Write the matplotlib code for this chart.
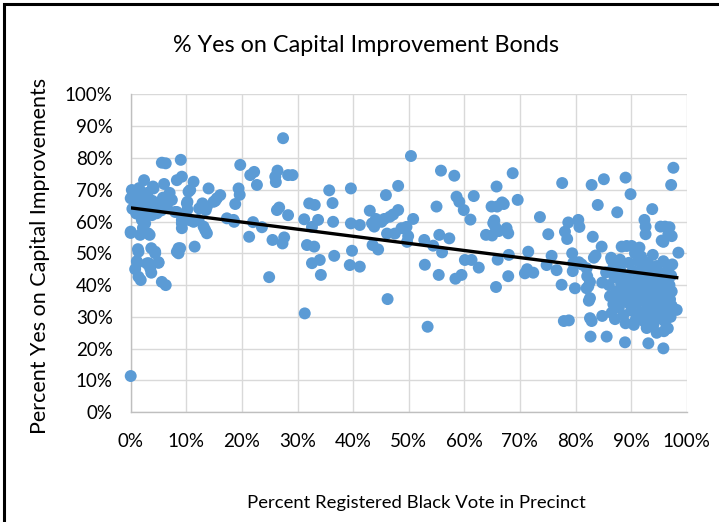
import numpy as np
import matplotlib
matplotlib.use("Agg")
import matplotlib.pyplot as plt
from matplotlib.patches import Rectangle
from matplotlib.ticker import PercentFormatter

title = "% Yes on Capital Improvement Bonds"
x_label = "Percent Registered Black Vote in Precinct"
y_label = "Percent Yes on Capital Improvements"
x_ticks = [0, 10, 20, 30, 40, 50, 60, 70, 80, 90, 100]
y_ticks = [0, 10, 20, 30, 40, 50, 60, 70, 80, 90, 100]

# precinct points: (percent black registered, percent yes)
pts_0_10 = [
    (0, 11.4), (0, 67.3), (0, 56.4), (0.4, 69.4), (0.2, 69.9), (0.3, 64), (1.1, 64.7), (2, 65.7),
    (2, 60.5), (2.6, 59.4), (0, 56.8), (1.7, 55.8), (3.4, 55.8), (1.3, 51.3), (1.4, 50.5), (1.2, 47),
    (1.1, 47.5), (2.9, 46.8), (3.5, 45.3), (0.8, 45), (1.4, 42.6), (1.8, 41.6), (2.4, 73), (3.7, 51.6),
    (4.4, 50.5), (5, 47.2), (4.4, 50), (3.2, 46.9), (3.7, 43.9), (5, 47), (3.1, 56.3), (4, 71),
    (4.1, 70.4), (3.9, 66.5), (2.9, 63.1), (4.4, 62.6), (4.7, 62.6), (5, 65.7), (6.2, 66), (7.4, 66.8),
    (6.8, 66.5), (8, 63), (8.3, 63), (5.6, 78.5), (6.3, 78.3), (6, 71.8), (5.6, 41), (6.3, 40),
    (9, 79.4), (8.3, 73), (9.2, 74.1), (10.4, 69.4), (10.2, 66.2), (10.1, 65.7), (10.2, 63.8),
    (9.2, 60.5), (10.7, 60.5), (9.2, 59.4), (9.2, 57.9), (8.6, 51.6), (8.9, 51.6), (8.3, 50.5),
    (8.6, 50), (11.5, 52.1), (0.8, 66), (1.5, 67.5), (2.5, 68), (3, 64.5), (3.8, 62), (1, 62.5),
    (1.8, 63.5), (2.2, 58), (4.5, 64), (5.5, 63.5), (6.5, 64.5), (5.8, 67.5), (7, 69), (3, 69),
    (1.5, 70.5),
]
pts_10_30 = [
    (11.3, 72.5), (10.7, 69.9), (12.3, 64.1), (14, 70.4), (13.4, 57.3), (13.7, 56.3), (13.1, 58.4),
    (11.3, 59.9), (10.7, 60.4), (12.2, 60.5), (15.5, 67.3), (16.1, 68.3), (15.2, 66.5), (14.9, 66.2),
    (13.7, 64.7), (12.9, 65.7), (13.5, 63.6), (17.3, 61), (18.5, 60.5), (18.6, 59.9), (19.4, 70.4),
    (19.6, 68.4), (18.8, 65.5), (19.7, 77.8), (21.5, 74.6), (22.2, 75.6), (22.7, 71.5), (21.3, 55.2),
    (23.6, 58.2), (22, 59.8), (25.5, 54.2), (24.9, 42.5), (27.4, 86.2), (26, 74.1), (26.4, 76),
    (28.3, 74.6), (29.1, 74.6), (26.1, 72.4), (26.3, 63.6), (26.7, 64.4), (28.3, 62), (27.3, 53.1),
    (27.6, 55),
]
pts_30_50 = [
    (31.3, 31.1), (31.2, 60.7), (32.1, 65.7), (33.1, 65.2), (32.6, 58.3), (33.7, 60.5), (31.7, 52.6),
    (33, 52.1), (32.6, 46.9), (34, 47.9), (34.2, 43.2), (35.7, 69.8), (36.3, 65.8), (36.4, 59.9),
    (36.6, 49.2), (39.6, 70.4), (39.6, 59.4), (39.8, 50.8), (39.4, 46.3), (41.2, 58.9), (41.2, 45.8),
    (43, 63.4), (43.4, 59.4), (43.8, 58.4), (44.1, 60.8), (45.1, 59.9), (45.6, 60.8), (46.6, 61.5),
    (47.2, 62.2), (48.1, 63.6), (45.9, 68.3), (48.1, 71.2), (43.5, 52.6), (44.5, 51.2), (46.1, 56.2),
    (47.5, 56.2), (48.7, 57.9), (49.6, 58.3), (50.8, 60.8), (49.7, 53.6), (46.2, 35.6), (49.9, 55.4),
]
pts_50_80 = [
    (50.4, 80.6), (52.8, 54.2), (52.9, 46.4), (53.4, 26.9), (55, 64.7), (54.4, 52.4), (55.5, 55.8),
    (57.3, 54.7), (56, 50.3), (55.4, 43.2), (55.8, 76), (58.2, 74.4), (58.6, 67.8), (59.1, 66.2),
    (59.9, 63.6), (58.4, 42), (59.5, 43.2), (60.1, 47.9), (61.3, 47.9), (61.1, 60.6), (61.7, 68),
    (62.6, 45.5), (63.9, 55.8), (65, 55.6), (65.2, 59.5), (65.8, 71), (64.9, 64.7), (65.9, 64.7),
    (66.8, 66), (65.7, 39.4), (66, 48), (68.7, 75.2), (69.6, 66.8), (67.1, 65.5), (65.4, 60.3),
    (65.6, 58.2), (67.6, 57.9), (67.9, 56.3), (66.2, 57), (68, 49.5), (67.9, 42.8), (71.5, 50.5),
    (70.9, 43.7), (72.4, 43.9), (71.3, 45), (73.6, 61.4), (75.1, 56), (75.7, 49.2), (74.8, 46.3),
    (76.6, 44.7), (77.5, 40.1), (77.6, 72.1), (78.1, 56.8), (78.7, 59.7), (78.5, 54.5), (79.4, 50),
    (79.6, 47), (80.6, 47.2), (79.9, 39), (79.5, 44.4), (80.5, 60.5), (80.7, 58.3), (81.1, 46.5),
    (77.9, 28.7), (78.8, 28.9),
]
pts_80_100 = [
    (82.9, 71.5), (85.1, 73.3), (84, 65.2), (83.1, 55.2), (84.7, 52.1), (83.6, 49.3), (82, 45.3),
    (82.1, 42.8), (82, 39), (82.4, 35.1), (84.8, 40.8), (84.8, 30.3), (82.6, 29.6), (82.9, 28.7),
    (82.7, 23.8), (85.6, 23.8), (89, 73.8), (89.9, 68.6), (87.5, 62.9), (93.8, 63.9), (92.4, 60.5),
    (92.6, 58.4), (92.6, 56), (95.3, 58.4), (96.1, 58.4), (96.7, 56), (95.5, 54), (97.6, 76.9),
    (97.2, 71.5), (98.5, 50.2), (98.2, 32.2), (95.8, 20.1), (93.1, 21.7), (88.9, 22), (96.6, 26.4),
    (93.1, 27.8), (88.3, 52.1), (89.2, 52.3), (90.1, 52.3), (86.5, 47.9), (87.7, 46.4), (86.4, 48.6),
    (83.3, 48.6), (82.6, 41), (82.3, 39.6), (82.6, 35.9), (87.1, 29.3), (86.5, 31.3), (92.9, 29),
    (91.5, 51.8), (97.3, 55.4), (95.8, 53.6), (96.9, 58.2),
    (85.5, 44), (86, 40), (86.2, 36.5), (86.8, 34), (87, 42.5), (87.3, 38), (87.8, 33), (88, 45),
    (88.2, 40.5), (88.5, 36), (88.6, 30.5), (89, 43), (89.2, 38.5), (89.4, 34.5), (89.6, 47),
    (89.8, 41), (90, 32), (90.2, 36.8), (90.3, 44.5), (90.6, 39), (90.8, 29), (91, 34.5), (91.2, 42),
    (91.3, 47.5), (91.5, 37.5), (91.7, 31.5), (92, 45), (92, 40), (92.2, 35), (92.4, 28.5),
    (92.5, 43), (92.7, 38), (92.9, 33), (93, 47), (93.2, 41.5), (93.3, 36), (93.5, 30.5),
    (93.6, 44.5), (93.8, 39.5), (94, 34), (94, 27.5), (94.2, 42.5), (94.3, 37), (94.5, 32),
    (94.6, 46), (94.8, 40), (94.9, 35), (95, 29.5), (95.1, 44), (95.2, 38.5), (95.4, 33.5),
    (95.5, 42), (95.6, 36.5), (95.7, 31), (95.8, 47.5), (96, 40.5), (96, 35), (96.1, 28.5),
    (96.2, 44), (96.3, 38), (96.4, 33), (96.5, 42.5), (96.6, 37), (96.7, 31.5), (96.8, 45.5),
    (96.9, 40), (97, 35.5), (97.1, 30), (97.2, 43), (97.3, 38), (97.3, 33.5), (92.8, 26.5),
    (90.5, 27.5), (89, 28), (87.5, 36), (88, 48), (86.8, 45.5), (95.9, 25.5), (94.6, 25),
    (97.4, 46.5), (91.8, 49), (93.9, 49.5), (90.7, 50),
]

all_pts = np.array(pts_0_10 + pts_10_30 + pts_30_50 + pts_50_80 + pts_80_100, dtype=float)
xs = all_pts[:, 0]
ys = all_pts[:, 1]

plt.rcParams['font.family'] = ['Lato', 'DejaVu Sans']

fig = plt.figure(figsize=(7.19, 5.22), dpi=100)
ax = fig.add_axes([0.1818, 0.2102, 0.9551 - 0.1818, 0.8193 - 0.2102])

ax.scatter(xs, ys, s=74, color='#5B9BD5', edgecolors='none', zorder=3, clip_on=False)

# linear trendline
slope, intercept = np.polyfit(xs, ys, 1)
tx = np.array([xs.min(), xs.max()])
ax.plot(tx, intercept + slope * tx, color='black', lw=2.4, zorder=4, solid_capstyle='butt')

ax.set_xlim(0, 100)
ax.set_ylim(0, 100)
ax.set_xticks(x_ticks)
ax.set_yticks(y_ticks)
ax.xaxis.set_major_formatter(PercentFormatter(decimals=0))
ax.yaxis.set_major_formatter(PercentFormatter(decimals=0))
ax.grid(True, color='#D9D9D9', lw=1.0, zorder=0)
ax.set_axisbelow(True)
for side in ['top', 'right']:
    ax.spines[side].set_visible(False)
for side in ['left', 'bottom']:
    ax.spines[side].set_color('#BFBFBF')
    ax.spines[side].set_linewidth(1.0)
ax.tick_params(axis='both', length=0, labelsize=13.5, colors='black')
ax.tick_params(axis='x', pad=15)
ax.tick_params(axis='y', pad=13)

fig.text(0.509, 0.912, title, ha='center', va='center', fontsize=16.8)
fig.text(0.579, 0.036, x_label, ha='center', va='center', fontsize=13.3)
fig.text(0.056, 0.51, y_label, ha='center', va='center', rotation=90, fontsize=15.5)

fig.patches.append(Rectangle((0.006, -0.05), 1.2, 1.043, transform=fig.transFigure,
                             fill=False, edgecolor='black', lw=2.2))

fig.savefig('out.png', dpi=100)
